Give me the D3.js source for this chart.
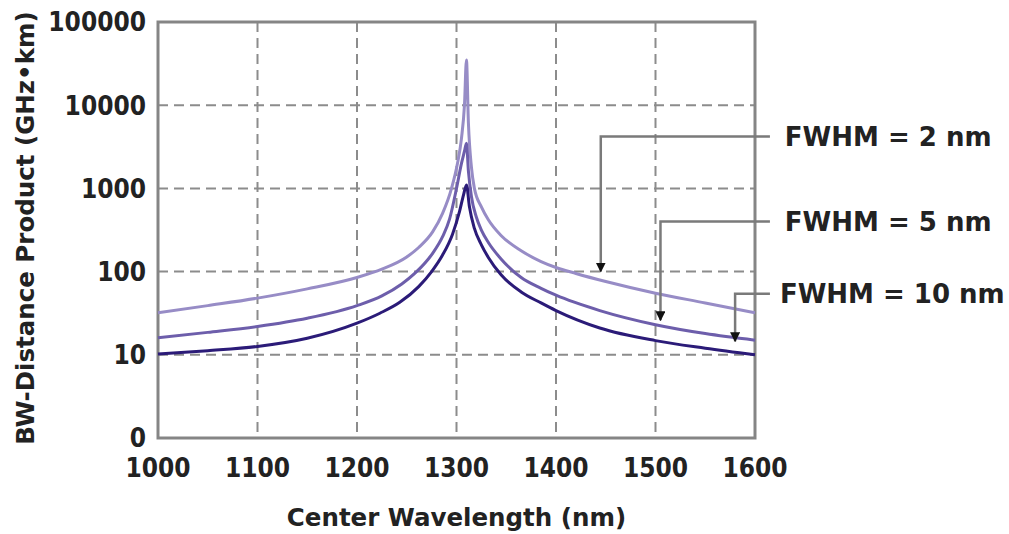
<!DOCTYPE html>
<html>
<head>
<meta charset="utf-8">
<script src="https://cdn.jsdelivr.net/npm/d3@7/dist/d3.min.js"></script>
<style>
  body { margin: 0; background: #fff; }
  svg { display: block; }
  .tick-label { font-family: "DejaVu Sans Condensed", "DejaVu Sans", sans-serif; font-stretch: condensed; font-weight: bold; font-size: 26px; fill: #222; }
  .axis-title { font-family: "DejaVu Sans", sans-serif; font-weight: bold; font-size: 24.5px; fill: #222; }
  .fwhm { font-family: "DejaVu Sans", sans-serif; font-weight: bold; font-size: 26px; fill: #222; }
</style>
</head>
<body>
<svg id="chart"></svg>
<script>
// wavelength (nm) and BW-distance product (GHz*km)
const wl2 = [1000,1050,1100,1150,1200,1225,1250,1262,1276,1286,1295,1301,1305,1308,1310,1312,1315,1318,1325,1332,1345,1365,1385,1400,1420,1450,1500,1550,1600];
const bw2 = [32,39,48,62,85,107,150,195,300,500,1000,2000,4000,10000,35000,6000,1800,1000,600,420,270,178,132,112,95,76,55,42,32];

const wl5 = [1000,1050,1100,1150,1200,1225,1245,1258,1276,1286,1293,1300,1305,1308,1310,1312,1315,1320,1325,1332,1345,1365,1385,1400,1444,1500,1550,1600];
const bw5 = [16,18.6,21.9,27.5,39,51,71,95,166,263,427,1000,2000,2800,3500,1600,800,450,316,224,141,85,63,52,34,23,18,15];

const wl10 = [1000,1050,1100,1150,1200,1223,1243,1262,1275,1286,1296,1303,1307,1310,1313,1318,1325,1332,1345,1365,1385,1400,1444,1500,1550,1600];
const bw10 = [10.2,11.2,12.6,15.8,24,31.6,42.7,66,100,158,282,525,830,1100,600,330,210,148,91,57,42,34,21,14.8,12,10];

const seriesColors = ['#978cc6', '#6d5eab', '#2b1b78'];

const xTicks = [1000,1100,1200,1300,1400,1500,1600];
const yTicks = [1,10,100,1000,10000,100000];
const yTickLabels = ['0','10','100','1000','10000','100000'];

// callouts: label, arrow tip (wavelength, value), elbow value
const fwhmLabels = ['FWHM = 2 nm', 'FWHM = 5 nm', 'FWHM = 10 nm'];
const tipWl = [1445, 1505, 1580];
const tipBw = [100, 26, 14.5];
const elbowBw = [4200, 400, 54];
const calloutEndWl = 1615;
const labelWl = [1630, 1630, 1625];

const W = 1009, H = 534;
const svg = d3.select('#chart').attr('width', W).attr('height', H);

const x = d3.scaleLinear().domain([1000, 1600]).range([158, 755]);
const y = d3.scaleLog().domain([1, 100000]).range([438, 22]);

// grid
const grid = svg.append('g')
  .attr('stroke', '#8c8c8c')
  .attr('stroke-width', 2)
  .attr('stroke-dasharray', '10,6');
grid.selectAll('line.v')
  .data(xTicks.slice(1, -1))
  .enter().append('line')
  .attr('x1', d => x(d)).attr('x2', d => x(d))
  .attr('y1', y(100000)).attr('y2', y(1));
grid.selectAll('line.h')
  .data(yTicks.slice(1, -1))
  .enter().append('line')
  .attr('x1', x(1000)).attr('x2', x(1600))
  .attr('y1', d => y(d)).attr('y2', d => y(d));

// frame
svg.append('rect')
  .attr('x', x(1000)).attr('y', y(100000))
  .attr('width', x(1600) - x(1000)).attr('height', y(1) - y(100000))
  .attr('fill', 'none').attr('stroke', '#858585').attr('stroke-width', 3);

// curves
const series = [
  { wl: wl2, bw: bw2 },
  { wl: wl5, bw: bw5 },
  { wl: wl10, bw: bw10 }
];
const line = d3.line()
  .x(d => x(d[0]))
  .y(d => y(d[1]))
  .curve(d3.curveMonotoneX);

svg.append('g').selectAll('path')
  .data(series)
  .enter().append('path')
  .attr('d', s => line(s.wl.map((w, i) => [w, s.bw[i]])))
  .attr('fill', 'none')
  .attr('stroke', (s, i) => seriesColors[i])
  .attr('stroke-width', 3)
  .attr('stroke-linejoin', 'round');

// tick labels
svg.append('g').selectAll('text')
  .data(xTicks)
  .enter().append('text')
  .attr('class', 'tick-label')
  .attr('x', d => x(d))
  .attr('y', 477)
  .attr('text-anchor', 'middle')
  .text(d => d);

svg.append('g').selectAll('text')
  .data(yTicks)
  .enter().append('text')
  .attr('class', 'tick-label')
  .attr('x', 146)
  .attr('y', d => y(d))
  .attr('dy', '0.36em')
  .attr('text-anchor', 'end')
  .text((d, i) => yTickLabels[i]);

// axis titles
svg.append('text')
  .attr('class', 'axis-title')
  .attr('x', (x(1000) + x(1600)) / 2)
  .attr('y', 526)
  .attr('text-anchor', 'middle')
  .text('Center Wavelength (nm)');

svg.append('text')
  .attr('class', 'axis-title')
  .attr('transform', 'translate(34,' + 228 + ') rotate(-90)')
  .attr('text-anchor', 'middle')
  .text('BW-Distance Product (GHz\u2022km)');

// callouts
svg.append('defs').append('marker')
  .attr('id', 'tip')
  .attr('viewBox', '0 0 10 10')
  .attr('refX', 9).attr('refY', 5)
  .attr('markerWidth', 4).attr('markerHeight', 4)
  .attr('orient', 'auto')
  .append('path').attr('d', 'M0,0 L10,5 L0,10 Z').attr('fill', '#111');

const callouts = svg.append('g');
fwhmLabels.forEach((lbl, i) => {
  callouts.append('path')
    .attr('d', 'M' + x(calloutEndWl) + ',' + y(elbowBw[i]) +
      'H' + x(tipWl[i]) + 'V' + y(tipBw[i]))
    .attr('fill', 'none')
    .attr('stroke', '#7a7a7a')
    .attr('stroke-width', 2.5)
    .attr('marker-end', 'url(#tip)');
  callouts.append('text')
    .attr('class', 'fwhm')
    .attr('x', x(labelWl[i]))
    .attr('y', y(elbowBw[i]))
    .attr('dy', '0.36em')
    .text(lbl);
});
</script>
</body>
</html>
